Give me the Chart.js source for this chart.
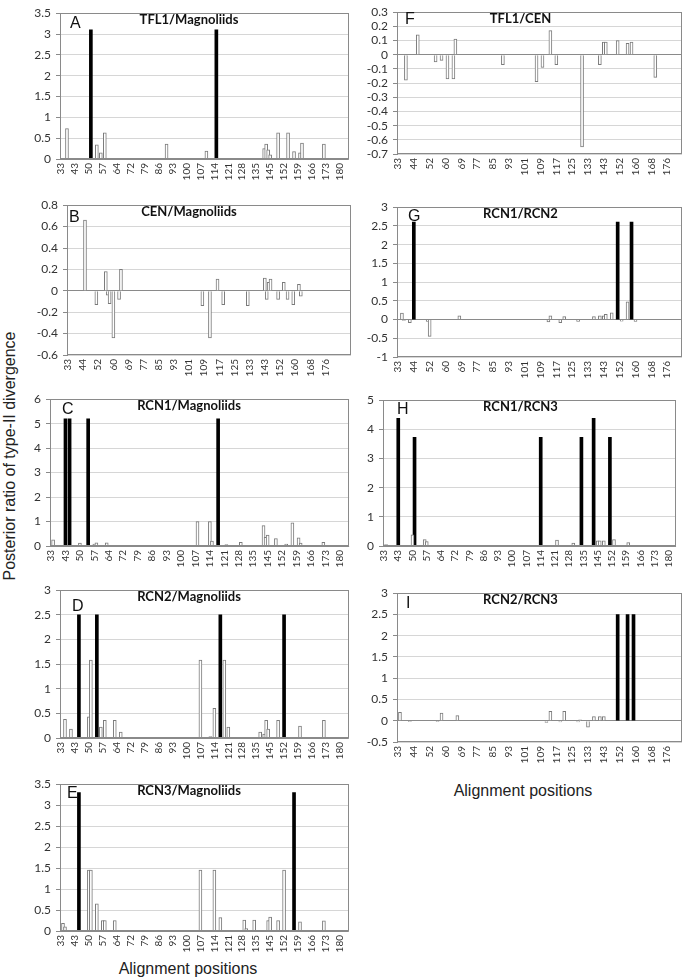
<!DOCTYPE html>
<html>
<head>
<meta charset="utf-8">
<script src="https://cdn.jsdelivr.net/npm/chart.js@4.4.1/dist/chart.umd.min.js"></script>
<style>
body{margin:0;background:#fff;width:685px;height:979px;position:relative;overflow:hidden;font-family:"Liberation Sans",Arial,sans-serif;color:#222}
canvas{position:absolute}
.lab{position:absolute;font-size:16px;white-space:nowrap;text-align:center;line-height:20px}
#ytitle{left:-190px;top:446px;width:400px;transform:rotate(-90deg)}
</style>
</head>
<body>
<div class="lab" id="ytitle">Posterior ratio of type-II divergence</div>
<div class="lab" style="left:88px;top:959px;width:200px">Alignment positions</div>
<div class="lab" style="left:423px;top:781px;width:200px">Alignment positions</div>
<script>
// tick labels (alignment positions shown on the axis)
var TICKS_7 = [33,43,50,57,64,72,79,86,93,100,107,114,121,128,135,145,152,159,166,173,180];
var TICKS_8 = [33,44,52,60,69,77,85,93,101,109,117,125,133,143,152,160,168,176];

// bars: [category index, posterior ratio]; "sig" = black bars
var aOpen = [[3,0.73],[18,0.34],[20,0.15],[22,0.63],[53,0.36],[73,0.19],[102,0.25],[103,0.36],[104,0.22],[105,0.1],[109,0.63],[114,0.63],[117,0.18],[120,0.15],[121,0.38],[132,0.36]];
var aSig = [[15,3.1],[78,3.1]];

var bOpen = [[9,0.66],[15,-0.13],[20,0.18],[21,-0.04],[22,-0.12],[24,-0.44],[27,-0.08],[28,0.2],[71,-0.14],[75,-0.44],[79,0.11],[82,-0.13],[95,-0.14],[104,0.12],[105,-0.08],[106,0.08],[107,0.11],[111,-0.08],[114,0.08],[116,-0.08],[119,-0.13],[122,0.06],[123,-0.05]];
var bSig = [];

var cOpen = [[1,0.25],[14,0.12],[21,0.08],[22,0.13],[27,0.13],[71,1.0],[77,1.0],[78,0.2],[85,0.06],[92,0.15],[103,0.83],[104,0.35],[105,0.45],[109,0.3],[114,0.08],[117,0.95],[120,0.33],[121,0.12],[132,0.15]];
var cSig = [[7,5.2],[9,5.2],[18,5.2],[81,5.2]];

var dOpen = [[2,0.38],[5,0.18],[14,0.43],[15,1.58],[20,0.22],[22,0.36],[27,0.36],[30,0.12],[70,1.58],[75,0.03],[77,0.6],[82,1.58],[84,0.22],[100,0.12],[102,0.08],[103,0.36],[104,0.18],[109,0.36],[120,0.24],[132,0.36]];
var dSig = [[9,2.5],[18,2.5],[80,2.5],[112,2.5]];

var eOpen = [[1,0.18],[2,0.1],[14,1.45],[15,1.45],[18,0.65],[21,0.25],[22,0.25],[27,0.25],[70,1.45],[77,1.45],[80,0.32],[92,0.26],[93,0.06],[97,0.26],[104,0.25],[105,0.33],[109,0.25],[112,1.45],[120,0.22],[132,0.24]];
var eSig = [[9,3.3],[117,3.3]];

var fOpen = [[4,-0.18],[10,0.14],[19,-0.05],[22,-0.04],[25,-0.17],[28,-0.17],[29,0.11],[53,-0.07],[70,-0.19],[73,-0.09],[77,0.17],[80,-0.07],[93,-0.65],[102,-0.07],[104,0.09],[105,0.09],[111,0.1],[116,0.08],[118,0.09],[130,-0.16]];
var fSig = [];

var gOpen = [[2,0.17],[3,-0.02],[6,-0.08],[15,-0.05],[16,-0.45],[31,0.1],[76,-0.06],[77,0.1],[82,-0.08],[84,0.08],[91,-0.05],[99,0.08],[102,0.1],[104,0.1],[105,0.14],[108,0.18],[113,-0.04],[116,0.47],[120,-0.05]];
var gSig = [[8,2.6],[111,2.6],[118,2.6]];

var hOpen = [[1,0.05],[14,0.38],[20,0.22],[21,0.15],[85,0.2],[93,0.1],[105,0.18],[106,0.18],[108,0.18],[113,0.22],[120,0.12]];
var hSig = [[7,4.38],[15,3.73],[77,3.73],[97,3.73],[103,4.38],[111,3.73]];

var iOpen = [[1,0.2],[6,-0.02],[20,-0.02],[22,0.18],[30,0.12],[75,-0.04],[77,0.22],[82,-0.03],[84,0.22],[91,-0.03],[92,0.02],[96,-0.15],[99,0.1],[102,0.1],[104,0.1]];
var iSig = [[111,2.5],[116,2.5],[119,2.5]];

// layout of each panel: plot box [left,right,top,bottom] in page pixels
var panels = [
  {letter:'A', title:'TFL1/Magnoliids', col:0, plot:[60,351,7,159],  y:[0,3.5,0.5],  n:145, ticks:TICKS_7, every:7, open:aOpen, sig:aSig, off:[10,5]},
  {letter:'B', title:'CEN/Magnoliids',  col:0, plot:[67,351,199,355],y:[-0.6,0.8,0.2],n:150, ticks:TICKS_8, every:8, open:bOpen, sig:bSig, off:[2,7]},
  {letter:'C', title:'RCN1/Magnoliids', col:0, plot:[50,351,393,546],y:[0,6,1],      n:145, ticks:TICKS_7, every:7, open:cOpen, sig:cSig, off:[12,5]},
  {letter:'D', title:'RCN2/Magnoliids', col:0, plot:[60,351,584,738],y:[0,3,0.5],    n:145, ticks:TICKS_7, every:7, open:dOpen, sig:dSig, off:[12,11]},
  {letter:'E', title:'RCN3/Magnoliids', col:0, plot:[60,351,778,931],y:[0,3.5,0.5],  n:145, ticks:TICKS_7, every:7, open:eOpen, sig:eSig, off:[7,4]},
  {letter:'F', title:'TFL1/CEN',        col:1, plot:[397,682,6,154], y:[-0.7,0.3,0.1],n:144, ticks:TICKS_8, every:8, open:fOpen, sig:fSig, off:[8,2]},
  {letter:'G', title:'RCN1/RCN2',       col:1, plot:[397,682,201,357],y:[-1,3,0.5],  n:144, ticks:TICKS_8, every:8, open:gOpen, sig:gSig, off:[11,4]},
  {letter:'H', title:'RCN1/RCN3',       col:1, plot:[383,682,394,546],y:[0,5,1],     n:144, ticks:TICKS_7, every:7, open:hOpen, sig:hSig, off:[14,4]},
  {letter:'I', title:'RCN2/RCN3',       col:1, plot:[397,682,587,742],y:[-0.5,3,0.5],n:144, ticks:TICKS_8, every:8, open:iOpen, sig:iSig, off:[9,5]}
];

var COLS = [[22,356],[356,685]];
var PAD_TOP = 6, XAXIS_H = 24;

var decor = {
  id: 'decor',
  afterDraw: function(chart, args, o) {
    var ctx = chart.ctx, a = chart.chartArea;
    ctx.save();
    ctx.strokeStyle = '#8a8a8a';
    ctx.lineWidth = 1;
    ctx.strokeRect(Math.round(a.left) + 0.5, Math.round(a.top) + 0.5, Math.round(a.right - a.left) - 1, Math.round(a.bottom - a.top) - 1);
    ctx.fillStyle = '#111';
    ctx.textBaseline = 'top';
    ctx.textAlign = 'left';
    ctx.font = '16px "Liberation Sans", Arial, sans-serif';
    ctx.fillText(o.letter, a.left + o.off[0], a.top + o.off[1] - 3);
    ctx.textAlign = 'center';
    ctx.textBaseline = 'middle';
    ctx.font = 'bold 13px Lato, sans-serif';
    ctx.fillText(o.title, chart.width / 2, a.top + 7);
    ctx.restore();
  }
};

function fmt(v) {
  var r = Math.round(v * 10) / 10;
  return String(r === 0 ? 0 : r);
}

panels.forEach(function(p) {
  var col = COLS[p.col];
  var cl = col[0], cw = col[1] - col[0];
  var ct = p.plot[2] - PAD_TOP;
  var ch = p.plot[3] - p.plot[2] + PAD_TOP + XAXIS_H;
  var cv = document.createElement('canvas');
  cv.width = cw; cv.height = ch;
  cv.style.left = cl + 'px'; cv.style.top = ct + 'px';
  document.body.appendChild(cv);

  var yW = p.plot[0] - cl;
  var rightPad = col[1] - p.plot[1];
  var toXY = function(d) { return {x: d[0], y: d[1]}; };

  new Chart(cv.getContext('2d'), {
    type: 'bar',
    data: {
      datasets: [
        {data: p.open.map(toXY), backgroundColor: '#ffffff', borderColor: '#7a7a7a', borderWidth: 1, barThickness: 3, grouped: false},
        {data: p.sig.map(toXY), backgroundColor: '#000000', borderWidth: 0, barThickness: 3, grouped: false}
      ]
    },
    options: {
      responsive: false,
      animation: false,
      layout: {padding: {top: PAD_TOP, right: rightPad, bottom: 0, left: 0}},
      plugins: {
        legend: {display: false},
        tooltip: {enabled: false},
        decor: {letter: p.letter, title: p.title, off: p.off}
      },
      scales: {
        x: {
          type: 'linear',
          offset: false,
          min: -0.5,
          max: p.n - 0.5,
          grid: {display: false, drawTicks: false},
          border: {display: false},
          afterBuildTicks: function(s) {
            s.ticks = p.ticks.map(function(t, i) { return {value: i * p.every}; });
          },
          afterFit: function(s) { s.height = XAXIS_H; },
          ticks: {
            autoSkip: false,
            minRotation: 90,
            maxRotation: 90,
            padding: 4,
            color: '#333',
            font: {family: 'Lato', size: 10},
            callback: function(v, i) { return String(p.ticks[i]); }
          }
        },
        y: {
          min: p.y[0],
          max: p.y[1],
          afterFit: function(s) { s.width = yW; },
          border: {color: '#8a8a8a'},
          grid: {
            color: function(c) { return c.tick && Math.abs(c.tick.value) < 1e-9 ? '#8a8a8a' : '#d6d6d6'; },
            tickColor: '#8a8a8a',
            tickLength: 4
          },
          ticks: {
            stepSize: p.y[2],
            autoSkip: false,
            padding: 5,
            color: '#333',
            font: {family: 'Lato', size: 12},
            callback: function(v) { return fmt(v); }
          }
        }
      }
    },
    plugins: [decor]
  });
});
</script>
</body>
</html>
